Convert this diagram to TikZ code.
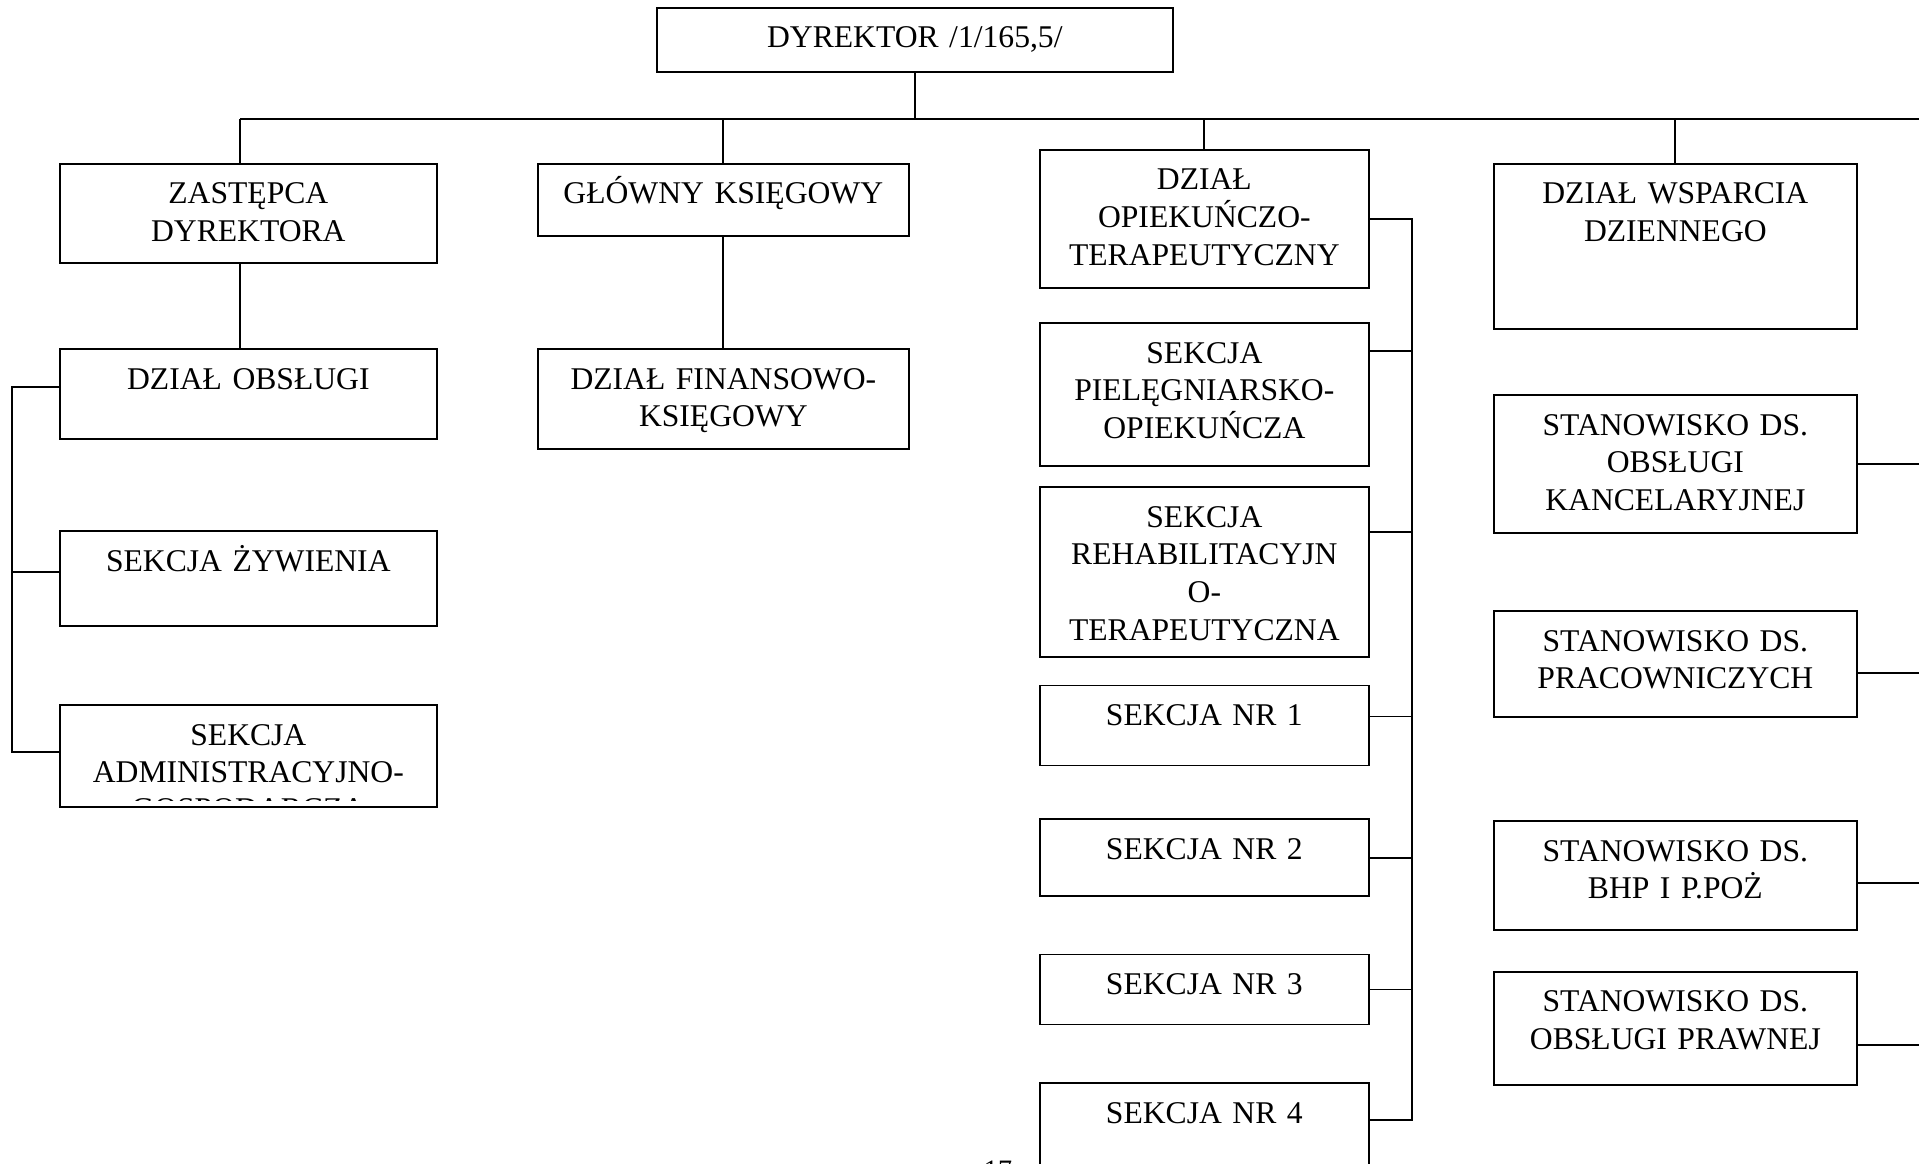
\documentclass[tikz,border=0pt]{standalone}
\usepackage{fontspec}
\setmainfont{Liberation Serif}
\usepackage{tikz}
\usetikzlibrary{positioning}

\begin{document}
\begin{tikzpicture}[
  x=0.02cm, y=-0.02cm,
  every node/.style={
    font=\fontsize{18pt}{21.4pt}\selectfont
  },
  unit/.style={
    draw,
    line width=1pt,
    align=center,
    inner sep=0pt,
    text height=0.8cm,
    anchor=north west
  },
  colL/.style={text width=7.54cm},
  colK/.style={text width=7.42cm},
  colM/.style={text width=6.58cm},
  colR/.style={text width=7.26cm},
  link/.style={line width=1pt}
]
\useasboundingbox (0,0) rectangle (1919,1163);

% Director
\node[unit, text width=10.32cm, text depth=0.48cm] (dyr) at (656,7) {DYREKTOR /1/165,5/};

% Deputy branch
\node[unit, colL, text depth=1.18cm] (zast) at (59,163) {ZASTĘPCA\\DYREKTORA};
\node[unit, colL, text depth=1.00cm, below=1.69cm of zast] (obsl) {DZIAŁ OBSŁUGI};
\node[unit, colL, text depth=1.10cm, below=1.81cm of obsl] (zyw) {SEKCJA ŻYWIENIA};
\node[unit, colL, text depth=1.24cm, below=1.54cm of zyw] (adm) {SEKCJA\\ADMINISTRACYJNO-};
\begin{scope}
  \clip (adm.north west) rectangle ([yshift=0.14cm]adm.south east);
  \node[anchor=base] (admrest) at ([yshift=-2.30cm]adm.north) {GOSPODARCZA};
\end{scope}

% Accounting branch
\node[unit, colK, text depth=0.64cm] (ksieg) at (537,163) {GŁÓWNY KSIĘGOWY};
\node[unit, colK, text depth=1.20cm, below=2.23cm of ksieg] (fin) {DZIAŁ FINANSOWO-\\KSIĘGOWY};

% Care and therapy branch
\node[unit, colM, text depth=1.96cm] (opiek) at (1039,149) {DZIAŁ\\OPIEKUŃCZO-\\TERAPEUTYCZNY};
\node[unit, colM, text depth=2.06cm, below=0.67cm of opiek] (piel) {SEKCJA\\PIELĘGNIARSKO-\\OPIEKUŃCZA};
\node[unit, colM, text depth=2.60cm, below=0.39cm of piel] (rehab) {SEKCJA\\REHABILITACYJN\\O-\\TERAPEUTYCZNA};
\node[unit, colM, text depth=0.80cm, below=0.53cm of rehab] (nr1) {SEKCJA NR 1};
\node[unit, colM, text depth=0.74cm, below=1.04cm of nr1] (nr2) {SEKCJA NR 2};
\node[unit, colM, text depth=0.60cm, below=1.13cm of nr2] (nr3) {SEKCJA NR 3};
\node[unit, colM, text depth=1.60cm, below=1.14cm of nr3] (nr4) {SEKCJA NR 4};

% Day support and posts
\node[unit, colR, text depth=2.50cm] (wsp) at (1493,163) {DZIAŁ WSPARCIA\\DZIENNEGO};
\node[unit, colR, text depth=1.96cm, below=1.29cm of wsp] (kanc) {STANOWISKO DS.\\OBSŁUGI\\KANCELARYJNEJ};
\node[unit, colR, text depth=1.32cm, below=1.53cm of kanc] (prac) {STANOWISKO DS.\\PRACOWNICZYCH};
\node[unit, colR, text depth=1.38cm, below=2.04cm of prac] (bhp) {STANOWISKO DS.\\BHP I P.POŻ};
\node[unit, colR, text depth=1.46cm, below=0.80cm of bhp] (praw) {STANOWISKO DS.\\OBSŁUGI PRAWNEJ};

% Page number
\node[anchor=base, font=\fontsize{16pt}{18pt}\selectfont] (pagenr) at (998,1179) {17};

% Bus lines
\coordinate (busL) at (240,119);
\coordinate (busR) at (1919,119);
\coordinate (bar1) at (12,0);
\coordinate (bar3) at (1412,0);

% Connectors
\draw[link] (dyr.south) -- (dyr.south |- busL);
\draw[link] (busL) -- (busR);
\draw[link] (busL) -- (busL |- zast.north);
\draw[link] (zast.south -| busL) -- (obsl.north -| busL);
\draw[link] (ksieg.north |- busL) -- (ksieg.north);
\draw[link] (ksieg.south) -- (fin.north);
\draw[link] (opiek.north |- busL) -- (opiek.north);
\draw[link] (wsp.north |- busL) -- (wsp.north);

\draw[link] ([yshift=0.14cm]obsl.west) -| ([yshift=0.08cm]adm.west -| bar1) -- ([yshift=0.08cm]adm.west);
\draw[link] ([yshift=0.13cm]zyw.west) -- ([yshift=0.13cm]zyw.west -| bar1);

\draw[link] (opiek.east) -| ([yshift=-0.76cm]nr4.north east -| bar3) -- ([yshift=-0.76cm]nr4.north east);
\draw[link] ([yshift=0.87cm]piel.east) -- ([yshift=0.87cm]piel.east -| bar3);
\draw[link] ([yshift=0.80cm]rehab.east) -- ([yshift=0.80cm]rehab.east -| bar3);
\draw[link] ([yshift=0.18cm]nr1.east) -- ([yshift=0.18cm]nr1.east -| bar3);
\draw[link] (nr2.east) -- (nr2.east -| bar3);
\draw[link] (nr3.east) -- (nr3.east -| bar3);

\draw[link] (kanc.east) -- (kanc.east -| busR);
\draw[link] ([yshift=-0.18cm]prac.east) -- ([yshift=-0.18cm]prac.east -| busR);
\draw[link] ([yshift=-0.15cm]bhp.east) -- ([yshift=-0.15cm]bhp.east -| busR);
\draw[link] ([yshift=-0.33cm]praw.east) -- ([yshift=-0.33cm]praw.east -| busR);

\end{tikzpicture}
\end{document}
